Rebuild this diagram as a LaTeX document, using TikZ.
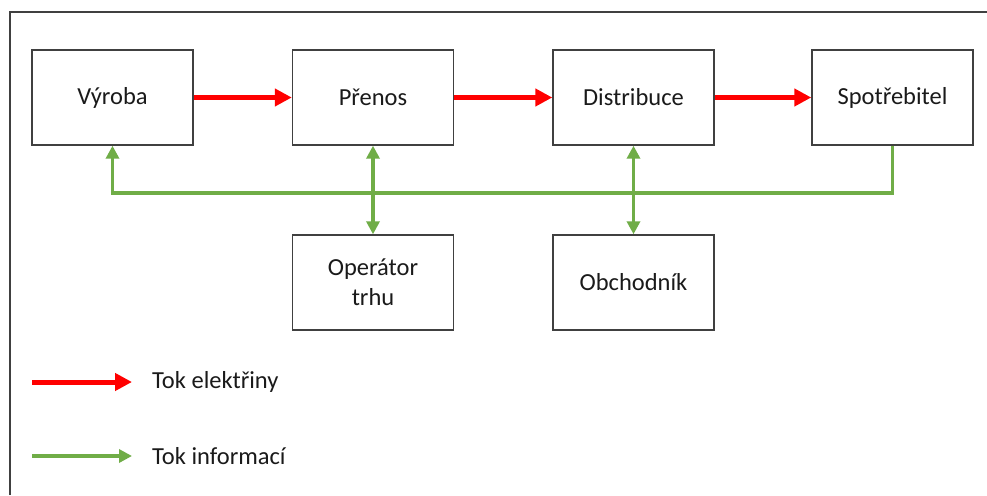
\documentclass[tikz,border=0pt]{standalone}
\usepackage{fontspec}
\setmainfont{Carlito}
\usetikzlibrary{arrows.meta}
\definecolor{infogreen}{HTML}{70AD47}
\definecolor{boxline}{HTML}{404040}
\definecolor{txt}{HTML}{1A1A1A}
\begin{document}
\begin{tikzpicture}[x=1pt,y=-1pt,
  block/.style={draw=boxline,line width=1.4pt,minimum width=161pt,minimum height=95pt,inner sep=0pt,align=center,text=txt,font=\fontsize{24.5}{30}\selectfont},
  power/.style={draw=red,line width=5pt,-{Triangle[length=17pt,width=17pt]}},
  info/.style={draw=infogreen,line width=3.5pt},
  gtip/.style={Triangle[length=13pt,width=13pt]},
  infotip/.style={-{Triangle[length=13pt,width=13pt]}},
  infotwo/.style={{Triangle[length=13pt,width=13pt]}-{Triangle[length=13pt,width=13pt]}},
  legtext/.style={anchor=west,inner sep=0pt,text=txt,font=\fontsize{24.5}{30}\selectfont}]
\useasboundingbox (0,0) rectangle (987,495);
\fill[white] (0,0) rectangle (987,495);
\draw[boxline,line width=1.2pt] (10,495) -- (10,12) -- (987,12);

\node[block] (vyr) at (112.5,97.5) {Výroba};
\node[block] (pre) at (373,97.5) {Přenos};
\node[block] (dis) at (633.5,97.5) {Distribuce};
\node[block] (spo) at (892.5,97.5) {Spotřebitel};
\node[block] (opt) at (373,282.5) {Operátor\\trhu};
\node[block] (obc) at (633.5,282.5) {Obchodník};

\draw[power] (vyr.east) -- (pre.west);
\draw[power] (pre.east) -- (dis.west);
\draw[power] (dis.east) -- (spo.west);

\coordinate (bus) at (0,193);
\draw[info,infotip] (spo.south) -- (spo.south |- bus) -- (vyr.south |- bus) -- (vyr.south);
\draw[info,infotwo] (pre.south) -- (opt.north);
\draw[info,infotwo] (dis.south) -- (obc.north);

\coordinate (la1) at (32,382);
\coordinate (la2) at (132,382);
\coordinate (lb1) at (32,456);
\coordinate (lb2) at (132,456);
\draw[power] (la1) -- (la2);
\draw[info,infotip] (lb1) -- (lb2);
\node[legtext] (lt1) at (152,382) {Tok elektřiny};
\node[legtext] (lt2) at (152,456) {Tok informací};
\end{tikzpicture}
\end{document}
